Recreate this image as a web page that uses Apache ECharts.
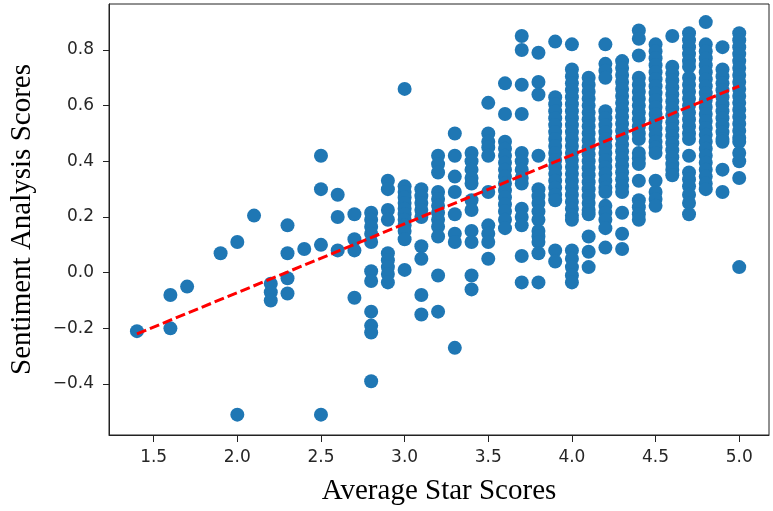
<!DOCTYPE html>
<html>
<head>
<meta charset="utf-8">
<style>html,body{margin:0;padding:0;background:#fff}#c{width:773px;height:511px}</style>
<script src="https://cdn.jsdelivr.net/npm/echarts@6/dist/echarts.min.js"></script>
</head>
<body>
<div id="c"></div>
<script>
// Star score columns and the sentiment values read in each column
const starScores = [1.4,1.6,1.7,1.9,2.0,2.1,2.2,2.3,2.4,2.5,2.6,2.7,2.8,2.9,3.0,3.1,3.2,3.3,3.4,3.5,3.6,3.7,3.8,3.9,4.0,4.1,4.2,4.3,4.4,4.5,4.6,4.7,4.8,4.9,5.0];

const s14 = [-0.21];
const s16 = [-0.08, -0.20];
const s17 = [-0.05];
const s19 = [0.07];
const s20 = [0.11, -0.51];
const s21 = [0.205];
const s22 = [-0.04, -0.07, -0.10];
const s23 = [0.17, 0.07, -0.02, -0.075];
const s24 = [0.085];
const s25 = [0.42, 0.30, 0.10, -0.51];
const s26 = [0.28, 0.20, 0.08];
const s27 = [0.21, 0.12, 0.08, -0.09];
const s28 = [0.215, 0.19, 0.165, 0.14, 0.11, 0.005, -0.03, -0.14, -0.19, -0.215, -0.39];
const s29 = [0.33, 0.30, 0.225, 0.19, 0.07, 0.045, 0.02, -0.005, -0.035];
const s30 = [0.66, 0.31, 0.29, 0.27, 0.25, 0.23, 0.21, 0.19, 0.17, 0.15, 0.12, 0.01];
const s31 = [0.30, 0.275, 0.25, 0.225, 0.20, 0.095, 0.05, -0.08, -0.15];
const s32 = [0.42, 0.39, 0.36, 0.29, 0.265, 0.24, 0.215, 0.19, 0.165, 0.13, -0.01, -0.14];
const s33 = [0.50, 0.42, 0.345, 0.29, 0.21, 0.14, 0.11, -0.27];
const s34 = [0.43, 0.40, 0.37, 0.34, 0.32, 0.26, 0.225, 0.15, 0.11, -0.01, -0.06];
const s35 = [0.61, 0.50, 0.47, 0.45, 0.42, 0.29, 0.17, 0.14, 0.11, 0.05];
const s36 = [0.68, 0.57, 0.47, 0.445, 0.42, 0.395, 0.37, 0.345, 0.32, 0.295, 0.27, 0.245, 0.22, 0.19, 0.16];
const s37 = [0.85, 0.80, 0.675, 0.57, 0.43, 0.40, 0.37, 0.34, 0.32, 0.23, 0.20, 0.17, 0.06, -0.035];
const s38 = [0.79, 0.685, 0.64, 0.42, 0.30, 0.275, 0.25, 0.22, 0.19, 0.15, 0.13, 0.11, 0.07, -0.035];
const s39 = [0.83, 0.63, 0.605, 0.58, 0.555, 0.53, 0.505, 0.48, 0.455, 0.43, 0.405, 0.38, 0.355, 0.33, 0.305, 0.28, 0.26, 0.08, 0.04];
const s40 = [0.82, 0.73, 0.705, 0.68, 0.655, 0.63, 0.605, 0.58, 0.555, 0.53, 0.505, 0.48, 0.455, 0.43, 0.405, 0.38, 0.355, 0.33, 0.305, 0.28, 0.255, 0.23, 0.205, 0.19, 0.08, 0.05, 0.02, -0.01, -0.035];
const s41 = [0.70, 0.675, 0.65, 0.625, 0.60, 0.575, 0.55, 0.525, 0.50, 0.475, 0.45, 0.425, 0.40, 0.375, 0.35, 0.325, 0.30, 0.275, 0.25, 0.225, 0.21, 0.13, 0.075, 0.02];
const s42 = [0.82, 0.75, 0.725, 0.70, 0.58, 0.555, 0.53, 0.505, 0.48, 0.455, 0.43, 0.405, 0.38, 0.355, 0.33, 0.305, 0.29, 0.24, 0.215, 0.19, 0.16, 0.09];
const s43 = [0.76, 0.735, 0.71, 0.685, 0.66, 0.635, 0.61, 0.585, 0.56, 0.535, 0.51, 0.485, 0.46, 0.435, 0.41, 0.385, 0.36, 0.335, 0.31, 0.29, 0.215, 0.14, 0.085];
const s44 = [0.87, 0.84, 0.78, 0.70, 0.675, 0.65, 0.625, 0.60, 0.575, 0.55, 0.525, 0.50, 0.48, 0.43, 0.41, 0.39, 0.33, 0.26, 0.235, 0.21, 0.19];
const s45 = [0.82, 0.795, 0.77, 0.745, 0.72, 0.695, 0.67, 0.645, 0.62, 0.595, 0.57, 0.545, 0.52, 0.495, 0.47, 0.45, 0.43, 0.33, 0.29, 0.265, 0.24];
const s46 = [0.85, 0.74, 0.715, 0.69, 0.665, 0.64, 0.615, 0.59, 0.565, 0.54, 0.515, 0.49, 0.465, 0.44, 0.415, 0.39, 0.37, 0.35];
const s47 = [0.86, 0.835, 0.81, 0.785, 0.76, 0.74, 0.70, 0.675, 0.65, 0.625, 0.60, 0.575, 0.55, 0.525, 0.50, 0.48, 0.42, 0.36, 0.335, 0.31, 0.28, 0.25, 0.21];
const s48 = [0.90, 0.82, 0.795, 0.77, 0.745, 0.72, 0.695, 0.67, 0.645, 0.62, 0.595, 0.57, 0.545, 0.52, 0.495, 0.47, 0.445, 0.42, 0.395, 0.37, 0.345, 0.32, 0.30];
const s49 = [0.81, 0.73, 0.705, 0.68, 0.655, 0.63, 0.605, 0.58, 0.555, 0.53, 0.505, 0.48, 0.47, 0.37, 0.29];
const s50 = [0.86, 0.835, 0.81, 0.785, 0.76, 0.735, 0.71, 0.685, 0.66, 0.635, 0.61, 0.585, 0.56, 0.535, 0.51, 0.485, 0.47, 0.43, 0.40, 0.34, 0.02];

const sentimentColumns = [s14,s16,s17,s19,s20,s21,s22,s23,s24,s25,s26,s27,s28,s29,s30,s31,s32,s33,s34,s35,s36,s37,s38,s39,s40,s41,s42,s43,s44,s45,s46,s47,s48,s49,s50];

// Fitted trend line end points
const trendX = [1.4, 5.0];
const trendY = [-0.22, 0.67];

// Tick labels
const xTicks = [1.5, 2.0, 2.5, 3.0, 3.5, 4.0, 4.5, 5.0];
const yTicks = [-0.4, -0.2, 0.0, 0.2, 0.4, 0.6, 0.8];

const points = [];
starScores.forEach((s, i) => sentimentColumns[i].forEach(v => points.push([s, v])));
const trend = trendX.map((x, i) => [x, trendY[i]]);

const fmt = v => (v < 0 ? '\u2212' : '') + Math.abs(v).toFixed(1);
const tickFont = { fontFamily: 'DejaVu Sans', fontSize: 17, color: '#262626' };
const nameFont = { fontFamily: "'Liberation Serif', 'Times New Roman', serif", fontSize: 29, color: '#000' };

const chart = echarts.init(document.getElementById('c'), null, { renderer: 'canvas' });
chart.setOption({
  animation: false,
  backgroundColor: '#fff',
  grid: { left: 105, right: 4, top: 4, bottom: 75, show: true, borderColor: '#222', borderWidth: 1, containLabel: false },
  xAxis: {
    type: 'value', min: 1.233, max: 5.178,
    name: 'Average Star Scores', nameLocation: 'middle', nameGap: 42, nameTextStyle: nameFont,
    axisLine: { show: true, onZero: false, lineStyle: { color: '#222', width: 1 } },
    axisTick: { show: true, length: 7, inside: false, lineStyle: { color: '#222' }, customValues: xTicks },
    axisLabel: Object.assign({ margin: 14, customValues: xTicks, formatter: fmt }, tickFont),
    splitLine: { show: false }
  },
  yAxis: {
    type: 'value', min: -0.583, max: 0.965,
    name: 'Sentiment Analysis Scores', nameLocation: 'middle', nameGap: 72, nameTextStyle: nameFont,
    axisLine: { show: true, onZero: false, lineStyle: { color: '#222', width: 1 } },
    axisTick: { show: true, length: 6, inside: false, lineStyle: { color: '#222' }, customValues: yTicks },
    axisLabel: Object.assign({ margin: 15, customValues: yTicks, formatter: fmt }, tickFont),
    splitLine: { show: false }
  },
  series: [
    {
      type: 'scatter', data: points, symbol: 'circle', symbolSize: 14,
      itemStyle: { color: '#1f77b4', opacity: 1 }, z: 2
    },
    {
      type: 'line', data: trend, symbol: 'none', silent: true,
      lineStyle: { color: '#ff0000', width: 3, type: [10, 4] }, z: 3
    }
  ]
});
</script>
</body>
</html>
